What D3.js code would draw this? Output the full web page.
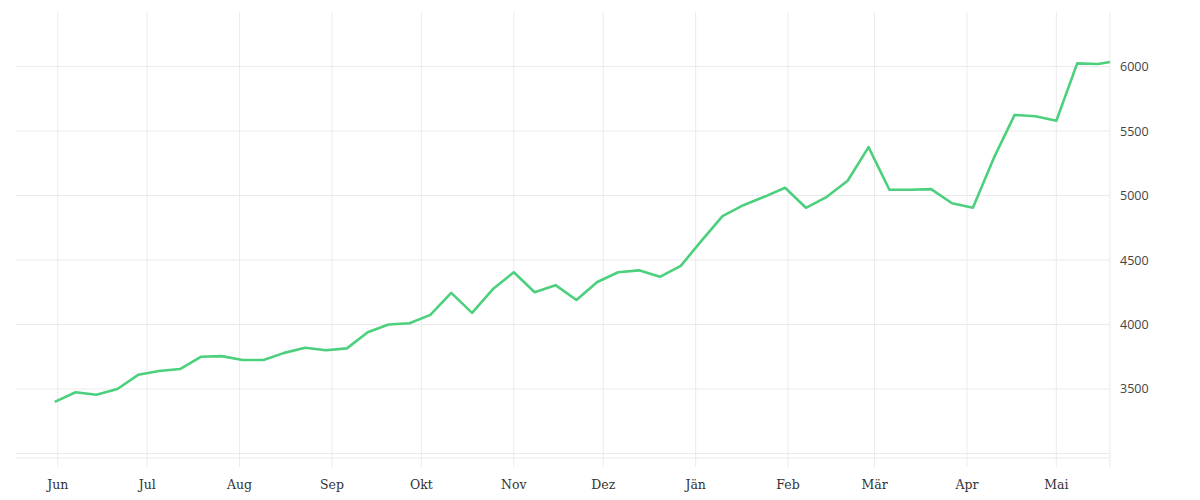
<!DOCTYPE html>
<html><head><meta charset="utf-8">
<script src="https://cdn.jsdelivr.net/npm/d3@7"></script>
<style>body{margin:0;background:#fff}</style>
</head><body><svg id="chart" width="1200" height="500"></svg>
<script>
// weekly values, starting 2023-05-31
let values = [3400, 3475, 3455, 3500, 3610, 3640, 3655, 3750, 3755, 3725, 3725, 3780, 3820,
  3800, 3815, 3940, 4000, 4010, 4075, 4245, 4090, 4275, 4405, 4250, 4305, 4190, 4330, 4405,
  4420, 4370, 4455, 4650, 4840, 4925, 4990, 5060, 4905, 4990, 5115, 5375, 5045, 5045, 5050,
  4940, 4905, 5290, 5625, 5615, 5580, 6025, 6020, 6035];
let monthLabels = ["Jun", "Jul", "Aug", "Sep", "Okt", "Nov", "Dez", "Jän", "Feb", "Mär", "Apr", "Mai"];
let yTicks = [3000, 3500, 4000, 4500, 5000, 5500, 6000];

let start = new Date(2023, 4, 31);
let dates = values.map((v, i) => d3.timeDay.offset(start, i * 7));
dates[dates.length - 1] = new Date(2024, 4, 19);
let months = monthLabels.map((m, i) => new Date(2023, 5 + i, 1));

let mLeft = 16, mRight = 1110, mTop = 12, mBottom = 458;
let xScale = d3.scaleTime().domain([new Date(2023, 4, 18), new Date(2024, 4, 19)]).range([mLeft, mRight]);
let yScale = d3.scaleLinear().domain([2965, 6423]).range([mBottom, mTop]);

let svg = d3.select("#chart");
let grid = "#ebebeb";

svg.append("g").selectAll("line").data(yTicks).join("line")
  .attr("x1", mLeft).attr("x2", mRight)
  .attr("y1", d => yScale(d)).attr("y2", d => yScale(d))
  .attr("stroke", grid);

svg.append("g").selectAll("line").data(months).join("line")
  .attr("x1", d => xScale(d)).attr("x2", d => xScale(d))
  .attr("y1", mTop).attr("y2", mBottom + 9)
  .attr("stroke", grid);

svg.append("line").attr("x1", mLeft).attr("x2", mRight).attr("y1", mBottom).attr("y2", mBottom).attr("stroke", grid);
svg.append("line").attr("x1", mRight).attr("x2", mRight).attr("y1", mTop).attr("y2", mBottom + 9).attr("stroke", grid);

svg.append("g").selectAll("text").data(months).join("text")
  .attr("x", d => xScale(d)).attr("y", 489)
  .attr("text-anchor", "middle")
  .attr("font-family", "DejaVu Serif").attr("font-size", 12.5).attr("fill", "#333")
  .text((d, i) => monthLabels[i]);

svg.append("g").selectAll("text").data(yTicks.filter(d => d > 3000)).join("text")
  .attr("x", 1120).attr("y", d => yScale(d) + 4.5)
  .attr("font-family", "Open Sans").attr("font-size", 12.5).attr("fill", "#444")
  .text(d => d);

let line = d3.line().x((d, i) => xScale(dates[i])).y(d => yScale(d));
svg.append("path").datum(values)
  .attr("d", line)
  .attr("fill", "none")
  .attr("stroke", "#4cd07d")
  .attr("stroke-width", 2.6)
  .attr("stroke-linejoin", "round");
</script></body></html>
